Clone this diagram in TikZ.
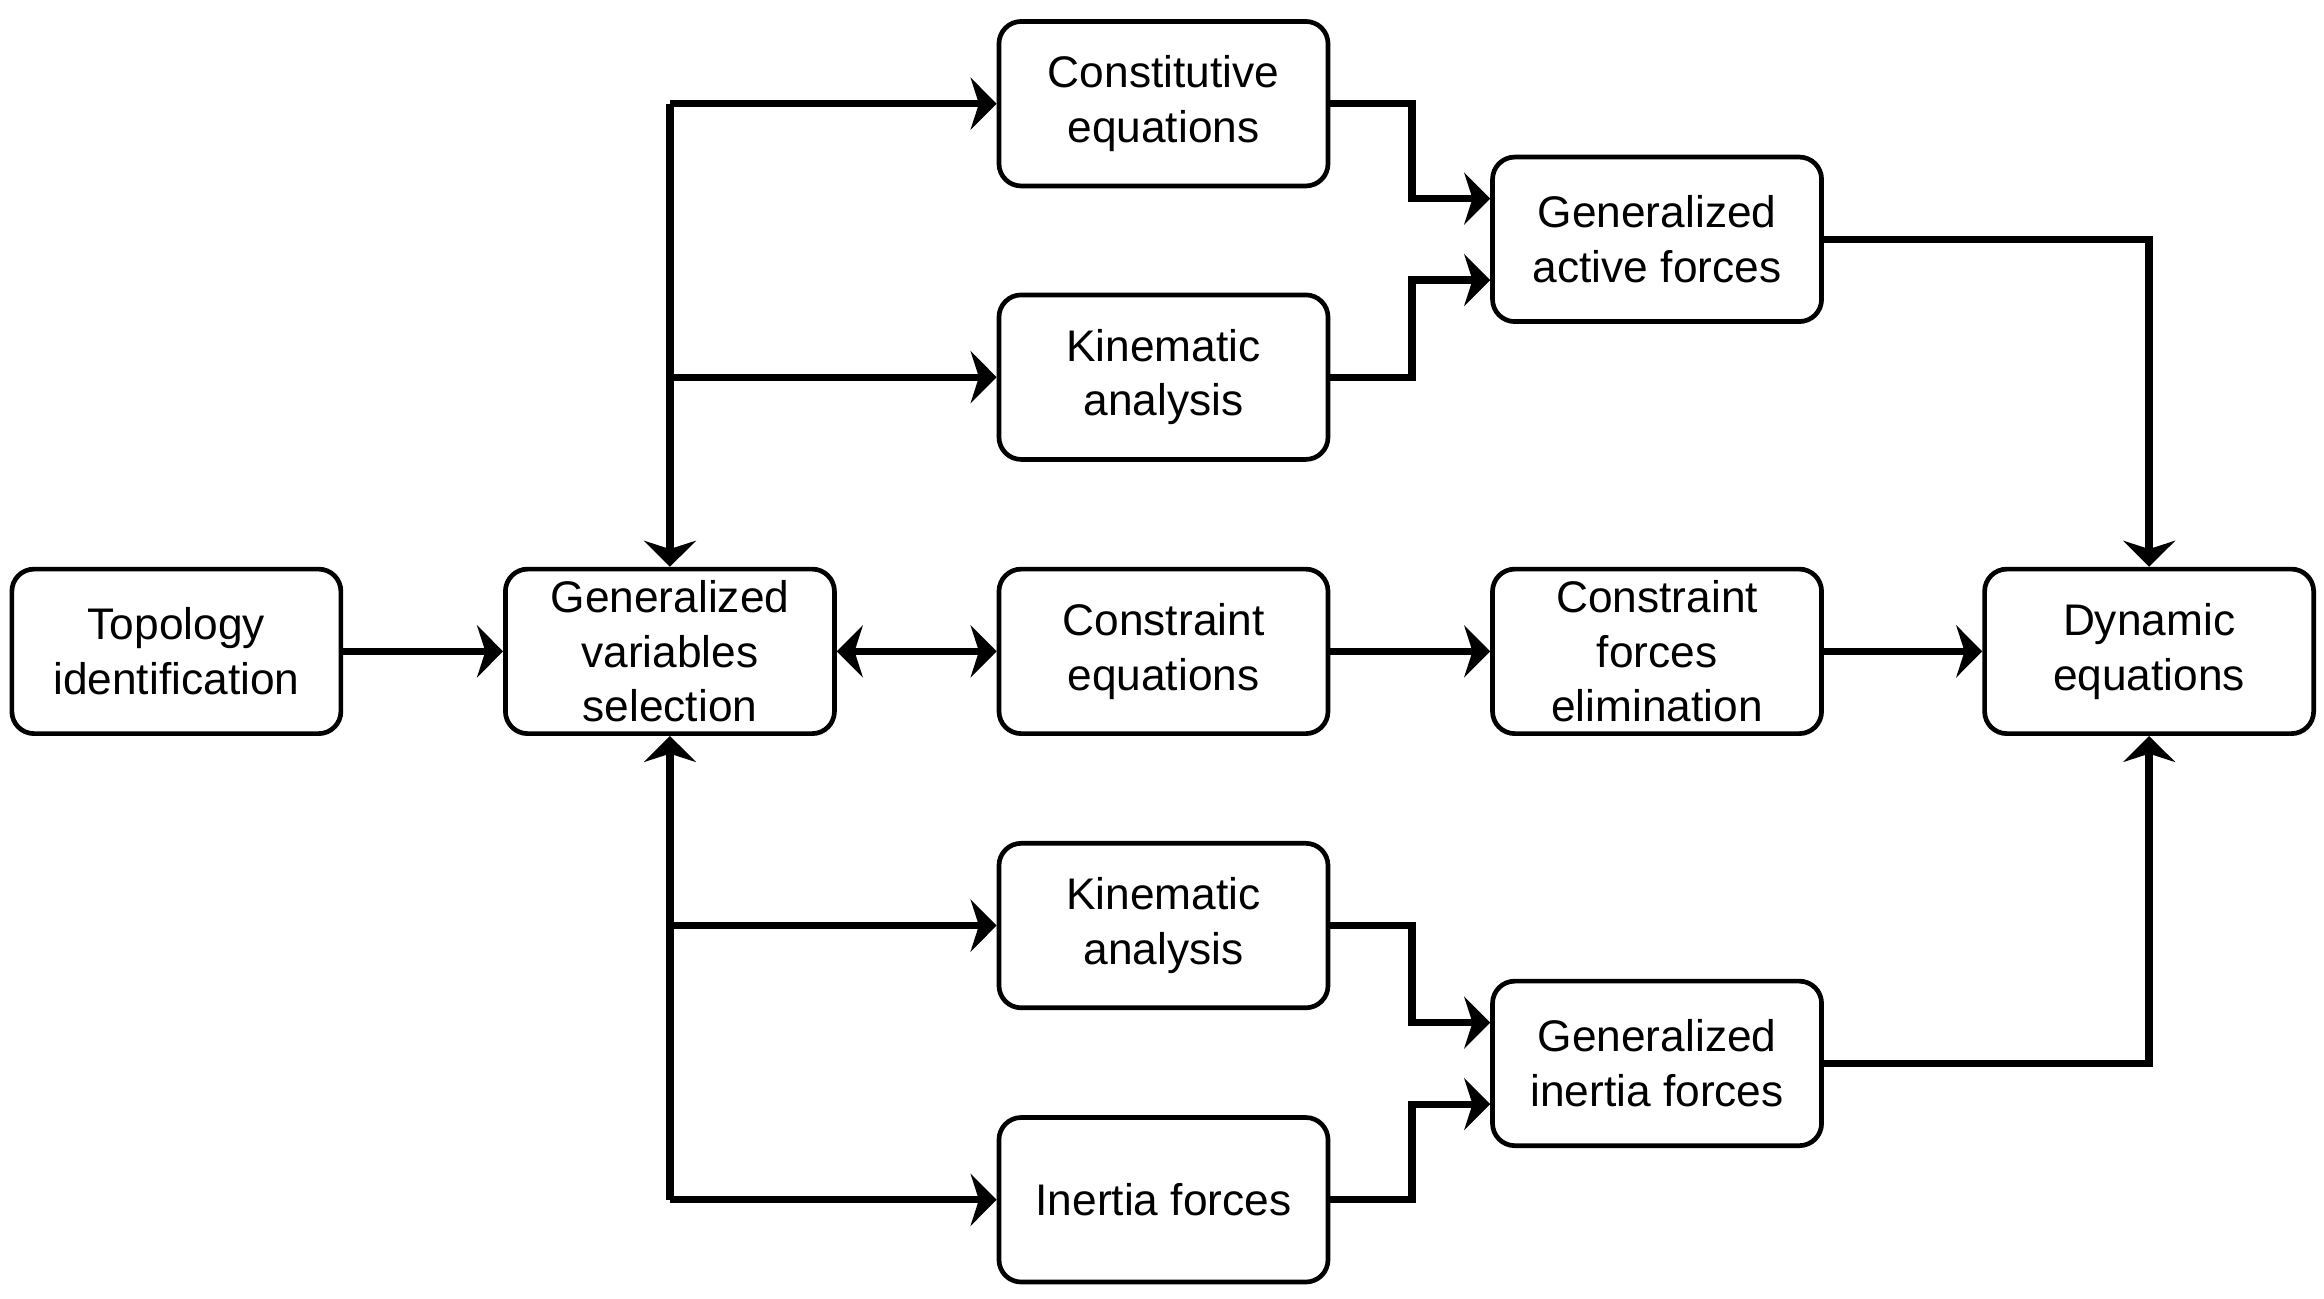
\documentclass[tikz,border=0pt]{standalone}
\usepackage{fontspec}
\setmainfont{Liberation Sans}
\usepackage{tikz}
\usetikzlibrary{arrows.meta}
\tikzset{box/.style={draw,line width=0.9pt,rounded corners=0.15cm,
    minimum width=2.22cm,minimum height=1.11cm,align=center,inner ysep=0pt,
    font=\fontsize{8.5}{10.5}\selectfont}}
\tikzset{tip/.tip={Stealth[length=5pt,width=10pt,inset=1.6pt]}}
\tikzset{flow/.style={line width=1.4pt,-tip}}
\begin{document}
\begin{tikzpicture}
                \useasboundingbox (0,0) rectangle (15.68,8.76);
                
                % Boxes
                \node[box] (topo) at (1.19,4.365) {Topology\\identification};
                \node[box] (gvs) at (4.52,4.365) {Generalized\\variables\\selection};
                \node[box] (const) at (7.85,8.06) {Constitutive\\equations};
                \node[box] (kinA) at (7.85,6.215) {Kinematic\\analysis};
                \node[box] (ceq) at (7.85,4.365) {Constraint\\equations};
                \node[box] (kinB) at (7.85,2.515) {Kinematic\\analysis};
                \node[box] (inert) at (7.85,0.665) {Inertia forces};
                \node[box] (active) at (11.18,7.145) {Generalized\\active forces};
                \node[box] (elim) at (11.18,4.365) {Constraint\\forces\\elimination};
                \node[box] (ginert) at (11.18,1.585) {Generalized\\inertia forces};
                \node[box] (dyn) at (14.50,4.365) {Dynamic\\equations};
                
                % Middle row
                \draw[flow] (topo) -- (gvs);
                \draw[flow,tip-tip] (gvs) -- (ceq);
                \draw[flow] (ceq) -- (elim);
                \draw[flow] (elim) -- (dyn);
                
                % Upper branch
                \draw[flow] (gvs.north |- const.west) -- (const.west);
                \draw[flow] (gvs.north |- kinA.west) -- (kinA.west);
                \draw[flow] (gvs.north |- const.west) -- (gvs.north);
                \draw[flow] (const.east) -- ++(0.55,0) |- ([yshift=0.275cm]active.west);
                \draw[flow] (kinA.east) -- ++(0.55,0) |- ([yshift=-0.275cm]active.west);
                \draw[flow] (active.east) -| (dyn.north);
                
                % Lower branch
                \draw[flow] (gvs.south |- kinB.west) -- (kinB.west);
                \draw[flow] (gvs.south |- inert.west) -- (inert.west);
                \draw[flow] (gvs.south |- inert.west) -- (gvs.south);
                \draw[flow] (kinB.east) -- ++(0.55,0) |- ([yshift=0.275cm]ginert.west);
                \draw[flow] (inert.east) -- ++(0.55,0) |- ([yshift=-0.275cm]ginert.west);
                \draw[flow] (ginert.east) -| (dyn.south);
\end{tikzpicture}
\end{document}
